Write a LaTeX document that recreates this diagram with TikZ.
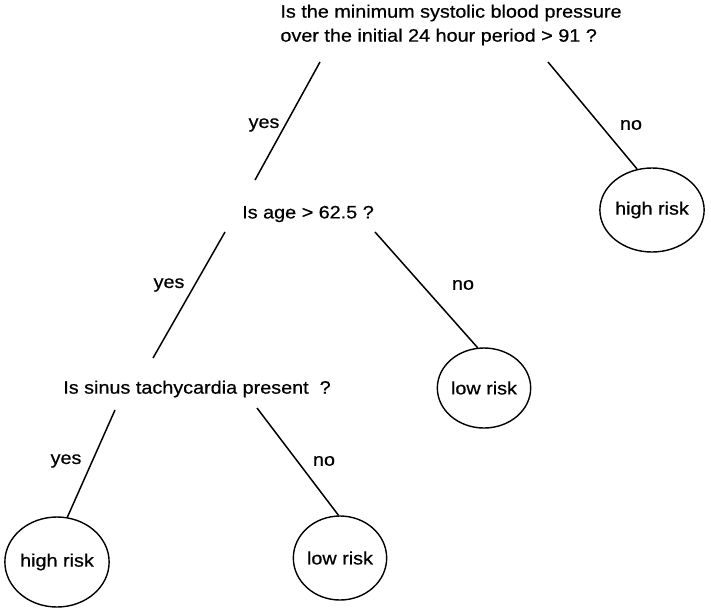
\documentclass[tikz,border=0pt]{standalone}
\usepackage{fontspec}
\setmainfont[FakeStretch=1.1,FakeBold=0.6]{Liberation Sans}
\usetikzlibrary{shapes.geometric}
\begin{document}
\begin{tikzpicture}[x=1pt,y=-1pt,
  txt/.style={inner sep=0pt,font=\fontsize{18}{24}\selectfont},
  leaf/.style={draw,ellipse,line width=1.4pt,inner sep=0pt,font=\fontsize{18}{22}\selectfont},
  edge/.style={line width=1.5pt}]
\useasboundingbox (0,0) rectangle (711,611);
% questions
\node[txt,align=left] (q1) at (451,25) {Is the minimum systolic blood pressure\\over the initial 24 hour period > 91 ?};
\node[txt] (q2) at (308,214) {Is age > 62.5 ?};
\node[txt] (q3) at (197,389) {Is sinus tachycardia present\ \ ?};
% leaves
\node[leaf,minimum width=90pt,minimum height=84pt] (hr1) at (652,210) {high risk};
\node[leaf,minimum width=80pt,minimum height=80pt] (lr1) at (484,388) {low risk};
\node[leaf,minimum width=96pt,minimum height=90pt] (hr2) at (57,562) {high risk};
\node[leaf,minimum width=88pt,minimum height=84pt] (lr2) at (340,558) {low risk};
% connector end points
\coordinate (q1y) at (320,62);
\coordinate (q1n) at (548,62);
\coordinate (q2t) at (255,180);
\coordinate (q2y) at (225,232);
\coordinate (q2n) at (375,232);
\coordinate (q3t) at (153,358);
\coordinate (q3y) at (115,410);
\coordinate (q3n) at (257,408);
% connectors
\draw[edge] (q1y) -- (q2t);
\draw[edge] (q1n) -- (hr1.110);
\draw[edge] (q2y) -- (q3t);
\draw[edge] (q2n) -- (lr1.99);
\draw[edge] (q3y) -- (hr2.77);
\draw[edge] (q3n) -- (lr2.92);
% branch labels
\node[txt] (l1) at (264,125) {yes};
\node[txt] (l2) at (631,125) {no};
\node[txt] (l3) at (169,285) {yes};
\node[txt] (l4) at (463,285) {no};
\node[txt] (l5) at (66,461) {yes};
\node[txt] (l6) at (324,461) {no};
\end{tikzpicture}
\end{document}
